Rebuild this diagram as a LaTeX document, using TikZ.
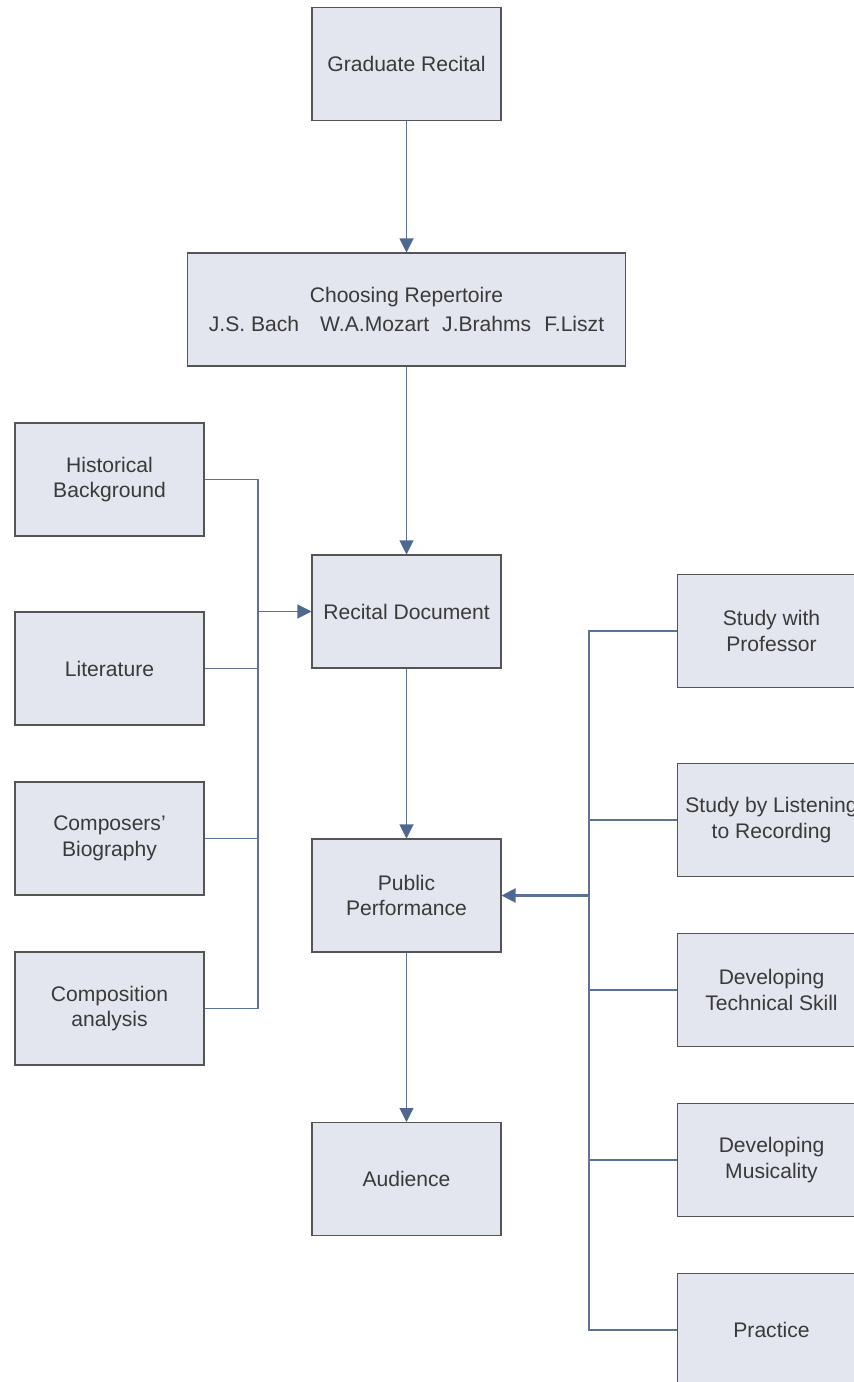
\documentclass[tikz,border=0pt]{standalone}
\usepackage{fontspec}
\setmainfont{Liberation Sans}
\usetikzlibrary{arrows.meta}
\definecolor{boxfill}{HTML}{E3E6EE}
\definecolor{boxline}{HTML}{555555}
\definecolor{linkcol}{HTML}{5B7398}
\definecolor{tipcol}{HTML}{4F6890}
\definecolor{txtcol}{HTML}{3A3A3A}

\begin{document}
\begin{tikzpicture}[x=0.02cm,y=-0.02cm,
  box/.style={draw=boxline,fill=boxfill,line width=0.6pt,minimum width=3.78cm,minimum height=2.26cm,
    align=center,text=txtcol,font=\fontsize{12}{14.5}\selectfont,inner sep=1pt},
  link/.style={draw=linkcol,line width=0.6pt},
  arr/.style={link,-{Triangle[length=0.28cm,width=0.28cm,color=tipcol]}}]

\useasboundingbox (0,0) rectangle (854,1382);
\clip (0,0) rectangle (854,1382);

\node[box] (grad) at (406.5,64) {Graduate Recital};
\node[box,minimum width=8.78cm] (rep) at (406.5,309.5) {Choosing Repertoire\\[2.5pt]J.S. Bach\hspace{1em}W.A.Mozart\hspace{0.62em}J.Brahms\hspace{0.62em}F.Liszt};
\node[box] (doc) at (406.5,611.5) {Recital Document};
\node[box] (pub) at (406.5,895.5) {Public\\Performance};
\node[box] (aud) at (406.5,1179) {Audience};

\node[box] (hist) at (109.5,479.5) {Historical\\Background};
\node[box] (lit) at (109.5,668.5) {Literature};
\node[box] (bio) at (109.5,838.5) {Composers'\\Biography};
\node[box] (ana) at (109.5,1008.5) {Composition\\analysis};

\node[box] (prof) at (771.5,631) {Study with\\Professor};
\node[box] (listen) at (771.5,820) {Study by Listening\\to Recording};
\node[box] (tech) at (771.5,990) {Developing\\Technical Skill};
\node[box] (music) at (771.5,1160) {Developing\\Musicality};
\node[box] (prac) at (771.5,1330) {Practice};

\coordinate (lbus) at (258,0);
\coordinate (rbus) at (589,0);

\draw[arr] (grad) -- (rep);
\draw[arr] (rep) -- (doc);
\draw[arr] (doc) -- (pub);
\draw[arr] (pub) -- (aud);

\draw[link] (hist.east) -| (ana.east -| lbus) -- (ana.east);
\draw[link] (lit.east) -- (lit.east -| lbus);
\draw[link] (bio.east) -- (bio.east -| lbus);
\draw[arr] (doc.west -| lbus) -- (doc.west);

\draw[link] (prof.west) -| (prac.west -| rbus) -- (prac.west);
\draw[link] (listen.west) -- (listen.west -| rbus);
\draw[link] (tech.west) -- (tech.west -| rbus);
\draw[link] (music.west) -- (music.west -| rbus);
\draw[arr,line width=1.2pt] (pub.east -| rbus) -- (pub.east);

\end{tikzpicture}
\end{document}
